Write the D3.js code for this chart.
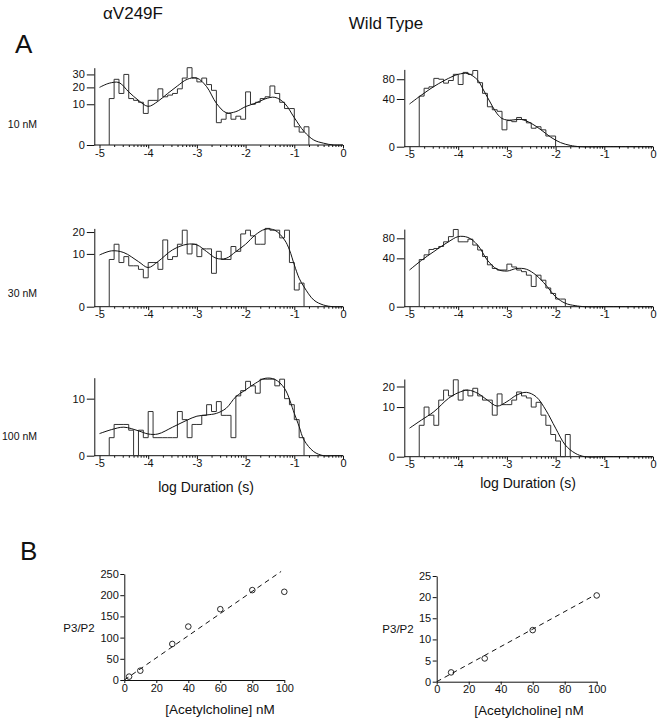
<!DOCTYPE html>
<html><head><meta charset="utf-8">
<script src="https://cdn.jsdelivr.net/npm/d3@7"></script>
<style>
body{margin:0;background:#fff}
svg text{font-family:"Liberation Sans",Arial,Helvetica,sans-serif;fill:#111}
.tick text{font-size:11px}
</style></head><body>
<svg id="c" width="664" height="720"></svg>
<script>
// ---------- DATA ----------
const binStart = -4.8, binWidth = 0.1;
const xTicks = [-5, -4, -3, -2, -1, 0];

// histogram counts (bins of 0.1 log units starting at -4.8)
const mutant10  = [13,26,16,30,13,12,11,6,12,12,19,14,15,16,19,27,36,27,24,27,22,18,3,4,6,4,5,4,17,10,11,13,14,21,16,11,8,8,2,1,2];
const mutant30  = [8,14,7,9,6,6,5,3,7,7,5,16,8,9,14,21,10,14,9,12,12,4,11,8,8,13,11,19,21,18,14,14,22,21,21,17,21,7,1,2];
const mutant100 = [1,3,3,3,2,0,2,1,6,1,1,1,1,1,6,4,1,3,3,5,8,6,9,5,5,1,11,13,17,15,12,18,18,18,15,18,10,8,4,1];
const wt10  = [45,60,63,82,80,71,77,92,68,97,92,102,72,50,28,24,22,5,12,11,15,13,10,6,7,5,2,2];
const wt30  = [38,46,56,58,62,72,84,102,72,72,78,65,55,43,30,25,23,23,31,27,23,21,17,7,17,12,6,3,1,1];
const wt100 = [4,10,7,4,13,18,15,24,13,18,15,19,15,13,13,7,16,11,11,13,17,15,14,10,12,7,4,2,1,0,2];

// fitted curves (log duration, count)
const fitMutant10X = [-5,-4.8,-4.6,-4.4,-4.2,-4.0,-3.8,-3.6,-3.4,-3.2,-3.0,-2.8,-2.6,-2.4,-2.2,-2.0,-1.8,-1.6,-1.4,-1.2,-1.0,-0.8,-0.6,-0.4,-0.2,0];
const fitMutant10Y = [20,23,23.5,17,12,9,11.5,16,21,26,27,20.5,10.5,6.3,6.7,8.9,10.5,12.8,13.7,10.5,4.5,1.1,0.15,0.02,0,0];
const fitMutant30X = [-5,-4.75,-4.5,-4.2,-4.0,-3.8,-3.5,-3.2,-3.0,-2.8,-2.6,-2.4,-2.2,-2.0,-1.8,-1.6,-1.4,-1.2,-1.1,-1.0,-0.9,-0.8,-0.6,-0.4,-0.2,0];
const fitMutant30Y = [9.6,11.2,10.5,7.3,5.5,7.3,11.6,14,13.7,10.9,8.4,8.4,10.9,14,18.5,21.5,21,16,11.6,6.3,2.9,1.4,0.16,0.01,0,0];
const fitMutant100X = [-5,-4.75,-4.5,-4.2,-4.0,-3.8,-3.5,-3.2,-3.0,-2.8,-2.6,-2.4,-2.2,-2.0,-1.8,-1.6,-1.4,-1.2,-1.0,-0.9,-0.8,-0.6,-0.4,-0.2,0];
const fitMutant100Y = [1.5,2.1,2.5,1.9,1.45,1.45,2.5,3.9,4.8,5.1,5.5,6.9,10.7,13.3,16.1,18.4,17.9,13.9,5.5,2.6,0.75,0.05,0,0,0];
const fitWt10X = [-5,-4.8,-4.6,-4.4,-4.2,-4.0,-3.8,-3.6,-3.5,-3.4,-3.3,-3.2,-3.1,-3.0,-2.9,-2.7,-2.5,-2.3,-2.1,-1.9,-1.7,-1.5,-1.0,0];
const fitWt10Y = [32,44,57,70,82,92,94,78,60,43,29,19,14,12.5,12.5,13,9.6,5,1.6,0.3,0.03,0,0,0];
const fitWt30X = [-5,-4.75,-4.5,-4.2,-4.0,-3.8,-3.6,-3.4,-3.2,-3.0,-2.8,-2.6,-2.4,-2.2,-2.0,-1.8,-1.6,-1.4,-1.0,0];
const fitWt30Y = [23,37,52,72,84,82,65,37,24,21.7,25,24,17,8,1.7,0.2,0.02,0,0,0];
const fitWt100X = [-5,-4.75,-4.5,-4.2,-4.0,-3.8,-3.6,-3.4,-3.2,-3.0,-2.8,-2.6,-2.4,-2.2,-2.0,-1.8,-1.6,-1.4,-1.0,0];
const fitWt100Y = [3.3,5.5,8.2,13.8,16.6,18,16.3,13,10.4,12.3,15.4,16.8,14.6,8.8,3.3,0.55,0.05,0,0,0];

// y axis ticks and maxima
const yTicksMutant10 = [0,10,20,30], yTicksMutant30 = [0,10,20], yTicksMutant100 = [0,10];
const yTicksWt10 = [0,40,80], yTicksWt30 = [0,40,80], yTicksWt100 = [0,10,20];
const yMaxMutant10 = 36, yMaxMutant30 = 22, yMaxMutant100 = 18.7;
const yMaxWt10 = 105, yMaxWt30 = 103, yMaxWt100 = 24.5;

// panel B
const concMutant  = [3,10,30,40,60,80,100];
const ratioMutant = [8,22,85,126,167,212,208];
const fitMutantConc = [0,98], fitMutantRatio = [0,256];
const concWt  = [9,30,60,100];
const ratioWt = [2.2,5.5,12.2,20.4];
const fitWtConc = [0,97], fitWtRatio = [0,20.1];
const concTicks = [0,20,40,60,80,100];
const ratioTicksMutant = [0,50,100,150,200,250];
const ratioTicksWt = [0,5,10,15,20,25];

// ---------- DRAW ----------
const svg = d3.select('#c');

function histPanel(p){
  const g = svg.append('g');
  const x = d3.scaleLinear().domain([-5,0]).range([p.x0, p.x1]);
  const y = d3.scaleSqrt().domain([0,p.yMax]).range([p.y0, p.top]);
  const ya = g.append('g').attr('transform',`translate(${p.axisX},0)`)
    .call(d3.axisLeft(y).tickValues(p.yTicks).tickSize(7.5).tickPadding(2).tickSizeOuter(0));
  ya.select('.domain').attr('stroke','#111');
  ya.selectAll('.tick line').attr('stroke','#111');
  const xa = g.append('g').attr('transform',`translate(0,${p.y0})`)
    .call(d3.axisBottom(x).tickValues(xTicks).tickSize(3.5).tickPadding(0.5)
      .tickFormat(d => d===0 ? '0' : '-' + Math.abs(d)));
  xa.select('.domain').remove();
  xa.selectAll('.tick line').attr('stroke','#111');
  const minor = [];
  for (let k=-5;k<0;k++) for (let n=2;n<=9;n++) minor.push(k+Math.log10(n));
  const xm = g.append('g').attr('transform',`translate(0,${p.y0})`)
    .call(d3.axisBottom(x).tickValues(minor).tickSize(2).tickFormat(''));
  xm.select('.domain').remove();
  xm.selectAll('.tick line').attr('stroke','#111');
  g.append('line').attr('x1',p.axisX).attr('x2',x(0)).attr('y1',p.y0).attr('y2',p.y0)
    .attr('stroke','#111');
  // histogram step outline
  const pts = [[binStart, 0]];
  p.counts.forEach((c,i) => {
    const a = binStart + i*binWidth;
    pts.push([a, c], [a+binWidth, c]);
  });
  pts.push([binStart + p.counts.length*binWidth, 0]);
  g.append('path').attr('d', d3.line().x(d=>x(d[0])).y(d=>y(d[1]))(pts))
    .attr('fill','none').attr('stroke','#333').attr('stroke-width',1);
  // fit
  const fit = p.fitX.map((v,i)=>[v,p.fitY[i]]);
  g.append('path').attr('d', d3.line().x(d=>x(d[0])).y(d=>y(d[1])).curve(d3.curveCatmullRom.alpha(0.5))(fit))
    .attr('fill','none').attr('stroke','#111').attr('stroke-width',1);
}

const L = {x0:99.5, x1:343, axisX:94.3};
const R = {x0:409.5, x1:653, axisX:404.3};
histPanel({...L, y0:145,   top:67.7,  yMax:yMaxMutant10,  yTicks:yTicksMutant10,  counts:mutant10,  fitX:fitMutant10X,  fitY:fitMutant10Y});
histPanel({...L, y0:306.7, top:228.4, yMax:yMaxMutant30,  yTicks:yTicksMutant30,  counts:mutant30,  fitX:fitMutant30X,  fitY:fitMutant30Y});
histPanel({...L, y0:455.7, top:377.7, yMax:yMaxMutant100, yTicks:yTicksMutant100, counts:mutant100, fitX:fitMutant100X, fitY:fitMutant100Y});
histPanel({...R, y0:146.7, top:69.4,  yMax:yMaxWt10,  yTicks:yTicksWt10,  counts:wt10,  fitX:fitWt10X,  fitY:fitWt10Y});
histPanel({...R, y0:306.7, top:229.1, yMax:yMaxWt30,  yTicks:yTicksWt30,  counts:wt30,  fitX:fitWt30X,  fitY:fitWt30Y});
histPanel({...R, y0:456.7, top:379,   yMax:yMaxWt100, yTicks:yTicksWt100, counts:wt100, fitX:fitWt100X, fitY:fitWt100Y});

function ratioPanel(p){
  const g = svg.append('g');
  const x = d3.scaleLinear().domain([0,100]).range([p.x0, p.x0+160]);
  const y = d3.scaleLinear().domain([0,p.yMax]).range([p.y0, p.top]);
  const ya = g.append('g').attr('transform',`translate(${p.x0},0)`)
    .call(d3.axisLeft(y).tickValues(p.yTicks).tickSize(4).tickPadding(1.5).tickSizeOuter(0));
  ya.selectAll('.domain,.tick line').attr('stroke','#111');
  const xa = g.append('g').attr('transform',`translate(0,${p.y0})`)
    .call(d3.axisBottom(x).tickValues(concTicks).tickSize(3).tickPadding(1).tickSizeOuter(0));
  xa.selectAll('.domain,.tick line').attr('stroke','#111');
  const fl = p.fitC.map((c,i)=>[c,p.fitR[i]]);
  g.append('path').attr('d', d3.line().x(d=>x(d[0])).y(d=>y(d[1]))(fl))
    .attr('fill','none').attr('stroke','#111').attr('stroke-width',1).attr('stroke-dasharray','5,4');
  g.selectAll('circle').data(p.conc).enter().append('circle')
    .attr('cx',(d)=>x(d)).attr('cy',(d,i)=>y(p.ratio[i])).attr('r',2.8)
    .attr('fill','none').attr('stroke','#111').attr('stroke-width',0.9);
}
ratioPanel({x0:124.3, y0:680, top:574, yMax:250, yTicks:ratioTicksMutant, conc:concMutant, ratio:ratioMutant, fitC:fitMutantConc, fitR:fitMutantRatio});
ratioPanel({x0:436.7, y0:681.7, top:576, yMax:25, yTicks:ratioTicksWt, conc:concWt, ratio:ratioWt, fitC:fitWtConc, fitR:fitWtRatio});

// ---------- TEXT ----------
function txt(x,y,s,size,anchor){
  svg.append('text').attr('x',x).attr('y',y).attr('font-size',size)
    .attr('text-anchor',anchor||'middle').text(s);
}
txt(133,18.5,'αV249F',17);
txt(386,29,'Wild Type',17);
txt(15,53,'A',26,'start');
txt(20,560,'B',26,'start');
txt(37,128,'10 nM',10.5,'end');
txt(37,297,'30 nM',10.5,'end');
txt(37,440,'100 nM',10.5,'end');
txt(206,492,'log Duration (s)',14);
txt(528,488,'log Duration (s)',14);
txt(79,632,'P3/P2',11.5);
txt(398,633,'P3/P2',11.5);
txt(220,714,'[Acetylcholine] nM',13.5);
txt(529,715,'[Acetylcholine] nM',13.5);
</script></body></html>
